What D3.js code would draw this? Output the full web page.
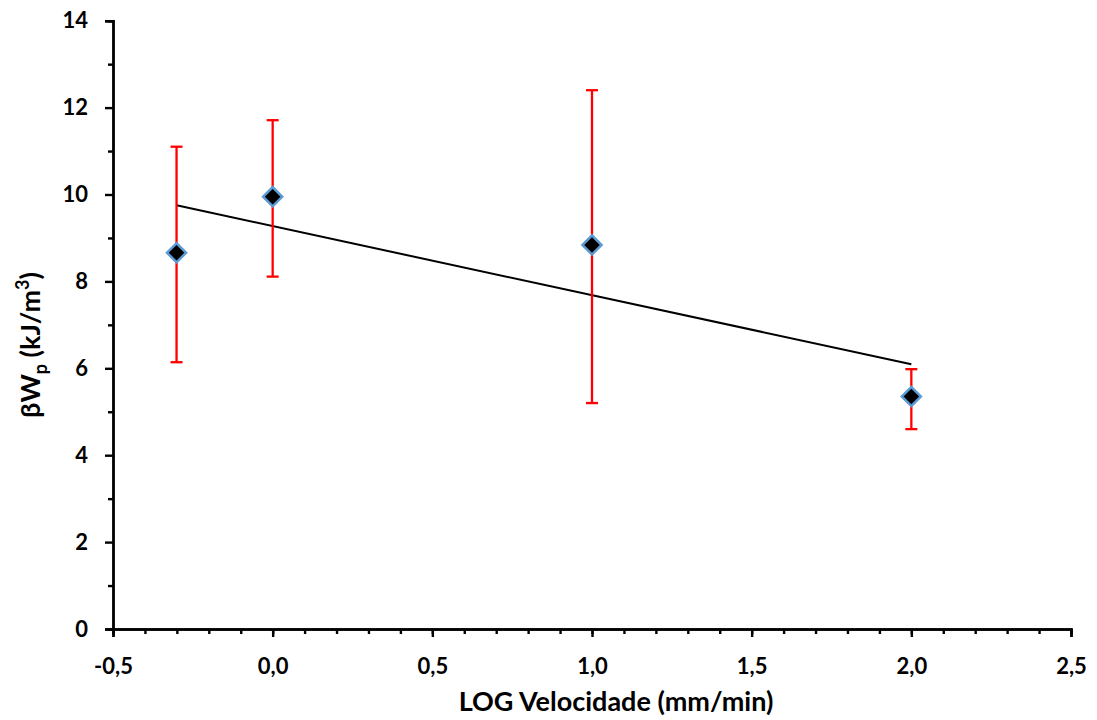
<!DOCTYPE html>
<html><head><meta charset="utf-8">
<script src="https://cdn.jsdelivr.net/npm/d3@7"></script>
<style>body{margin:0;background:#fff}text{font-family:Lato,"Open Sans",sans-serif;font-weight:bold}</style>
</head><body>
<svg id="c" width="1097" height="720"></svg>
<script>
const logVel = [-0.301, 0.0, 1.0, 2.0];
const energy = [8.66, 9.95, 8.84, 5.35];
const errLow = [6.14, 8.11, 5.20, 4.60];
const errHigh = [11.10, 11.71, 12.40, 5.98];
const xTicks = [-0.5, 0, 0.5, 1, 1.5, 2, 2.5];
const yTicks = [0, 2, 4, 6, 8, 10, 12, 14];

const svg = d3.select("#c");
const x = d3.scaleLinear().domain([-0.5, 2.5]).range([113, 1071]);
const y = d3.scaleLinear().domain([0, 14]).range([629, 20.7]);
const fmt = d => d3.format(".1f")(d).replace(".", ",").replace("\u2212", "-");

// minor ticks
const gx = svg.append("g").attr("transform", "translate(0,629)");
gx.call(d3.axisBottom(x).tickValues(d3.range(-0.5, 2.501, 0.1)).tickSize(5).tickFormat(""));
const gx2 = svg.append("g").attr("transform", "translate(0,629)");
gx2.call(d3.axisBottom(x).tickValues(xTicks).tickSize(8).tickFormat(fmt).tickPadding(21));
const gy = svg.append("g").attr("transform", "translate(113,0)");
gy.call(d3.axisLeft(y).tickValues(d3.range(1, 14, 2)).tickSize(5).tickFormat(""));
const gy2 = svg.append("g").attr("transform", "translate(113,0)");
gy2.call(d3.axisLeft(y).tickValues(yTicks).tickSize(8).tickFormat(d3.format("d")).tickPadding(17));
svg.selectAll(".domain").attr("stroke", "#000").attr("stroke-width", 2.4);
svg.selectAll(".tick line").attr("stroke", "#000").attr("stroke-width", 2.4);
svg.selectAll(".tick text").attr("fill", "#000").style("font-size", "22px");
gx2.selectAll(".tick text").attr("dy", "0.71em");

// trend line (least squares)
const mx = d3.mean(logVel), my = d3.mean(energy);
const slope = d3.sum(logVel, (v, i) => (v - mx) * (energy[i] - my)) / d3.sum(logVel, v => (v - mx) ** 2);
const icpt = my - slope * mx;
const x0 = d3.min(logVel), x1 = d3.max(logVel);
svg.append("line").attr("x1", x(x0)).attr("x2", x(x1))
  .attr("y1", y(icpt + slope * x0)).attr("y2", y(icpt + slope * x1))
  .attr("stroke", "#000").attr("stroke-width", 2);

// error bars
const eb = svg.append("g").attr("stroke", "#ff0000").attr("stroke-width", 2.3);
logVel.forEach((v, i) => {
  eb.append("line").attr("x1", x(v)).attr("x2", x(v)).attr("y1", y(errLow[i])).attr("y2", y(errHigh[i]));
  [errLow[i], errHigh[i]].forEach(e => eb.append("line").attr("x1", x(v) - 6).attr("x2", x(v) + 6).attr("y1", y(e)).attr("y2", y(e)));
});

// markers
svg.append("g").selectAll("path").data(logVel).join("path")
  .attr("d", d3.symbol().type(d3.symbolSquare).size(182))
  .attr("transform", (v, i) => `translate(${x(v)},${y(energy[i])}) rotate(45)`)
  .attr("fill", "#000").attr("stroke", "#5b9bd5").attr("stroke-width", 2.5);

// titles
svg.append("text").attr("x", 616).attr("y", 711).attr("text-anchor", "middle").style("font-size", "27px")
  .text("LOG Velocidade (mm/min)");
const yt = svg.append("text").attr("transform", "translate(40,345) rotate(-90)").attr("text-anchor", "middle").style("font-size", "27px");
yt.append("tspan").text("βW");
yt.append("tspan").attr("dy", 7).style("font-size", "18px").text("p");
yt.append("tspan").attr("dy", -7).text(" (kJ/m");
yt.append("tspan").attr("dy", -11).style("font-size", "18px").text("3");
yt.append("tspan").attr("dy", 11).text(")");
</script>
</body></html>
